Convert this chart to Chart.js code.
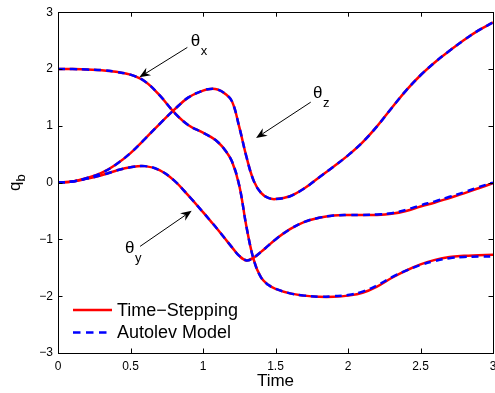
<!DOCTYPE html>
<html>
<head>
<meta charset="utf-8">
<script src="https://cdn.jsdelivr.net/npm/chart.js@4.4.1/dist/chart.umd.min.js"></script>
<style>
    html, body { margin: 0; padding: 0; background: #fff; }
</style>
</head>
<body>
<canvas id="chart" width="495" height="393"></canvas>
<script>
// time samples (s)
const time = [0, 0.1, 0.2, 0.3, 0.4, 0.5, 0.6, 0.7, 0.8, 0.9, 1.0, 1.05, 1.1, 1.15, 1.2, 1.25, 1.3, 1.35, 1.4, 1.45,
    1.5, 1.6, 1.7, 1.8, 1.9, 2.0, 2.1, 2.2, 2.3, 2.4, 2.5, 2.6, 2.7, 2.8, 2.9, 3.0];

// Time-Stepping
const thetaXStep = [2.00, 2.00, 1.99, 1.98, 1.95, 1.90, 1.78, 1.54, 1.24, 1.01, 0.88, 0.81, 0.72, 0.58, 0.37, -0.05, -0.78, -1.36, -1.67, -1.80,
    -1.87, -1.95, -1.99, -2.01, -2.01, -1.99, -1.94, -1.83, -1.68, -1.55, -1.44, -1.36, -1.31, -1.29, -1.28, -1.27];
const thetaYStep = [0, 0.02, 0.07, 0.13, 0.21, 0.27, 0.29, 0.22, 0.04, -0.23, -0.52, -0.67, -0.82, -0.98, -1.14, -1.29, -1.37, -1.32, -1.22, -1.11,
    -1.00, -0.82, -0.69, -0.62, -0.58, -0.57, -0.57, -0.57, -0.55, -0.50, -0.42, -0.35, -0.27, -0.19, -0.10, -0.01];
const thetaZStep = [0, 0.02, 0.08, 0.17, 0.32, 0.52, 0.77, 1.03, 1.28, 1.50, 1.62, 1.65, 1.64, 1.57, 1.43, 0.98, 0.45, 0.03, -0.18, -0.27,
    -0.29, -0.24, -0.10, 0.09, 0.28, 0.48, 0.71, 0.99, 1.31, 1.62, 1.89, 2.12, 2.32, 2.51, 2.68, 2.82];

// Autolev Model
const thetaXModel = [2.00, 2.00, 1.99, 1.98, 1.95, 1.90, 1.78, 1.54, 1.24, 1.01, 0.88, 0.81, 0.72, 0.58, 0.37, -0.05, -0.78, -1.36, -1.67, -1.80,
    -1.87, -1.95, -1.99, -2.01, -2.00, -1.98, -1.92, -1.81, -1.67, -1.55, -1.45, -1.38, -1.33, -1.31, -1.30, -1.30];
const thetaYModel = [0, 0.02, 0.07, 0.13, 0.21, 0.27, 0.29, 0.22, 0.04, -0.23, -0.52, -0.67, -0.82, -0.98, -1.14, -1.29, -1.37, -1.32, -1.22, -1.11,
    -1.00, -0.82, -0.69, -0.62, -0.58, -0.57, -0.57, -0.56, -0.54, -0.48, -0.40, -0.33, -0.25, -0.17, -0.08, 0.00];
const thetaZModel = thetaZStep.slice();

const xTicks = [0, 0.5, 1, 1.5, 2, 2.5, 3];
const xTickLabels = ['0', '0.5', '1', '1.5', '2', '2.5', '3'];
const yTicks = [-3, -2, -1, 0, 1, 2, 3];
const yTickLabels = ['\u22123', '\u22122', '\u22121', '0', '1', '2', '3'];

const legendLabels = ['Time\u2212Stepping', 'Autolev Model'];

// annotation: label position + arrow tail/tip, in data units
const notes = [
    {sub: 'x', at: [0.915, 2.40], from: [0.892, 2.38], to: [0.561, 1.854]},
    {sub: 'z', at: [1.759, 1.49], from: [1.743, 1.416], to: [1.366, 0.784]},
    {sub: 'y', at: [0.462, -1.233], from: [0.566, -1.123], to: [0.922, -0.497]}
];

const RED = '#ff0000';
const BLUE = '#0000ff';
const FONT = '"Liberation Sans", Arial, Helvetica, sans-serif';

function pts(values) {
    return values.map((v, i) => ({x: time[i], y: v}));
}

// lower order is drawn on top, so the dashed model lines sit over the red ones
function lineSet(values, color, dashed) {
    return {
        data: pts(values),
        borderColor: color,
        borderWidth: 2.5,
        borderDash: dashed ? [7, 5] : [],
        pointRadius: 0,
        fill: false,
        tension: 0.4,
        order: dashed ? 0 : 1
    };
}

function drawArrow(ctx, x1, y1, x2, y2) {
    const ang = Math.atan2(y2 - y1, x2 - x1);
    const len = 11, half = 4.5, notch = 7.5;
    const bx = x2 - Math.cos(ang) * len, by = y2 - Math.sin(ang) * len;
    const nx = x2 - Math.cos(ang) * notch, ny = y2 - Math.sin(ang) * notch;
    const px = -Math.sin(ang), py = Math.cos(ang);
    ctx.beginPath();
    ctx.moveTo(x1, y1);
    ctx.lineTo(nx, ny);
    ctx.stroke();
    ctx.beginPath();
    ctx.moveTo(x2, y2);
    ctx.lineTo(bx + px * half, by + py * half);
    ctx.lineTo(nx, ny);
    ctx.lineTo(bx - px * half, by - py * half);
    ctx.closePath();
    ctx.fill();
}

const framePlugin = {
    id: 'frame',
    afterDraw(chart) {
        const {ctx, chartArea: a, scales} = chart;
        const tick = 4.5;
        ctx.save();
        ctx.strokeStyle = '#000';
        ctx.lineWidth = 1;
        ctx.strokeRect(Math.round(a.left) + 0.5, Math.round(a.top) + 0.5,
            Math.round(a.right - a.left), Math.round(a.bottom - a.top));
        ctx.beginPath();
        xTicks.forEach(v => {
            const x = Math.round(scales.x.getPixelForValue(v)) + 0.5;
            ctx.moveTo(x, a.bottom); ctx.lineTo(x, a.bottom - tick);
            ctx.moveTo(x, a.top); ctx.lineTo(x, a.top + tick);
        });
        yTicks.forEach(v => {
            const y = Math.round(scales.y.getPixelForValue(v)) + 0.5;
            ctx.moveTo(a.left, y); ctx.lineTo(a.left + tick, y);
            ctx.moveTo(a.right, y); ctx.lineTo(a.right - tick, y);
        });
        ctx.stroke();

        // theta labels with arrows
        ctx.fillStyle = '#000';
        ctx.lineWidth = 1;
        notes.forEach(n => {
            const sx = scales.x, sy = scales.y;
            drawArrow(ctx, sx.getPixelForValue(n.from[0]), sy.getPixelForValue(n.from[1]),
                sx.getPixelForValue(n.to[0]), sy.getPixelForValue(n.to[1]));
            const tx = sx.getPixelForValue(n.at[0]), ty = sy.getPixelForValue(n.at[1]);
            ctx.textBaseline = 'alphabetic';
            ctx.textAlign = 'left';
            ctx.font = '17px ' + FONT;
            ctx.fillText('\u03b8', tx, ty);
            const w = ctx.measureText('\u03b8').width;
            ctx.font = '13px ' + FONT;
            ctx.fillText(n.sub, tx + w + 0.5, ty + 9);
        });

        // legend
        const lx = a.left + 15, ly = a.bottom - 43;
        ctx.font = '18px ' + FONT;
        ctx.textBaseline = 'middle';
        [RED, BLUE].forEach((c, i) => {
            const y = ly + i * 22.5;
            ctx.strokeStyle = c;
            ctx.lineWidth = 2.5;
            ctx.setLineDash(i ? [7.5, 5.5] : []);
            ctx.beginPath();
            ctx.moveTo(lx, y);
            ctx.lineTo(lx + 39, y);
            ctx.stroke();
            ctx.fillStyle = '#000';
            ctx.fillText(legendLabels[i], lx + 44, y + 1);
        });
        ctx.setLineDash([]);

        // y axis title q_b
        ctx.translate(20, 191);
        ctx.rotate(-Math.PI / 2);
        ctx.textBaseline = 'alphabetic';
        ctx.font = '17px ' + FONT;
        ctx.fillText('q', 0, 0);
        const qw = ctx.measureText('q').width;
        ctx.font = '13px ' + FONT;
        ctx.fillText('b', qw, 5);
        ctx.restore();
    }
};

const ctx = document.getElementById('chart').getContext('2d');
const chart = new Chart(ctx, {
    type: 'line',
    data: {
        datasets: [
            lineSet(thetaXStep, RED, false),
            lineSet(thetaYStep, RED, false),
            lineSet(thetaZStep, RED, false),
            lineSet(thetaXModel, BLUE, true),
            lineSet(thetaYModel, BLUE, true),
            lineSet(thetaZModel, BLUE, true)
        ]
    },
    options: {
        responsive: false,
        animation: false,
        layout: {padding: {top: 11, right: 2, left: 0, bottom: 0}},
        plugins: {legend: {display: false}, tooltip: {enabled: false}},
        scales: {
            x: {
                type: 'linear',
                min: 0,
                max: 3,
                afterBuildTicks: s => { s.ticks = xTicks.map(v => ({value: v})); },
                afterFit: s => { s.height = 40; s.paddingLeft = 0; s.paddingRight = 0; },
                grid: {display: false, drawTicks: false},
                border: {display: false},
                ticks: {
                    padding: 6,
                    color: '#000',
                    font: {family: FONT, size: 12},
                    maxRotation: 0,
                    callback: (v, i) => xTickLabels[i]
                },
                title: {
                    display: true,
                    text: 'Time',
                    color: '#000',
                    font: {family: FONT, size: 17},
                    padding: {top: 0, bottom: 1}
                }
            },
            y: {
                type: 'linear',
                min: -3,
                max: 3,
                afterBuildTicks: s => { s.ticks = yTicks.map(v => ({value: v})); },
                afterFit: s => { s.width = 58; },
                grid: {display: false, drawTicks: false},
                border: {display: false},
                ticks: {
                    padding: 5,
                    color: '#000',
                    font: {family: FONT, size: 12},
                    callback: (v, i) => yTickLabels[i]
                }
            }
        }
    },
    plugins: [framePlugin]
});
</script>
</body>
</html>
